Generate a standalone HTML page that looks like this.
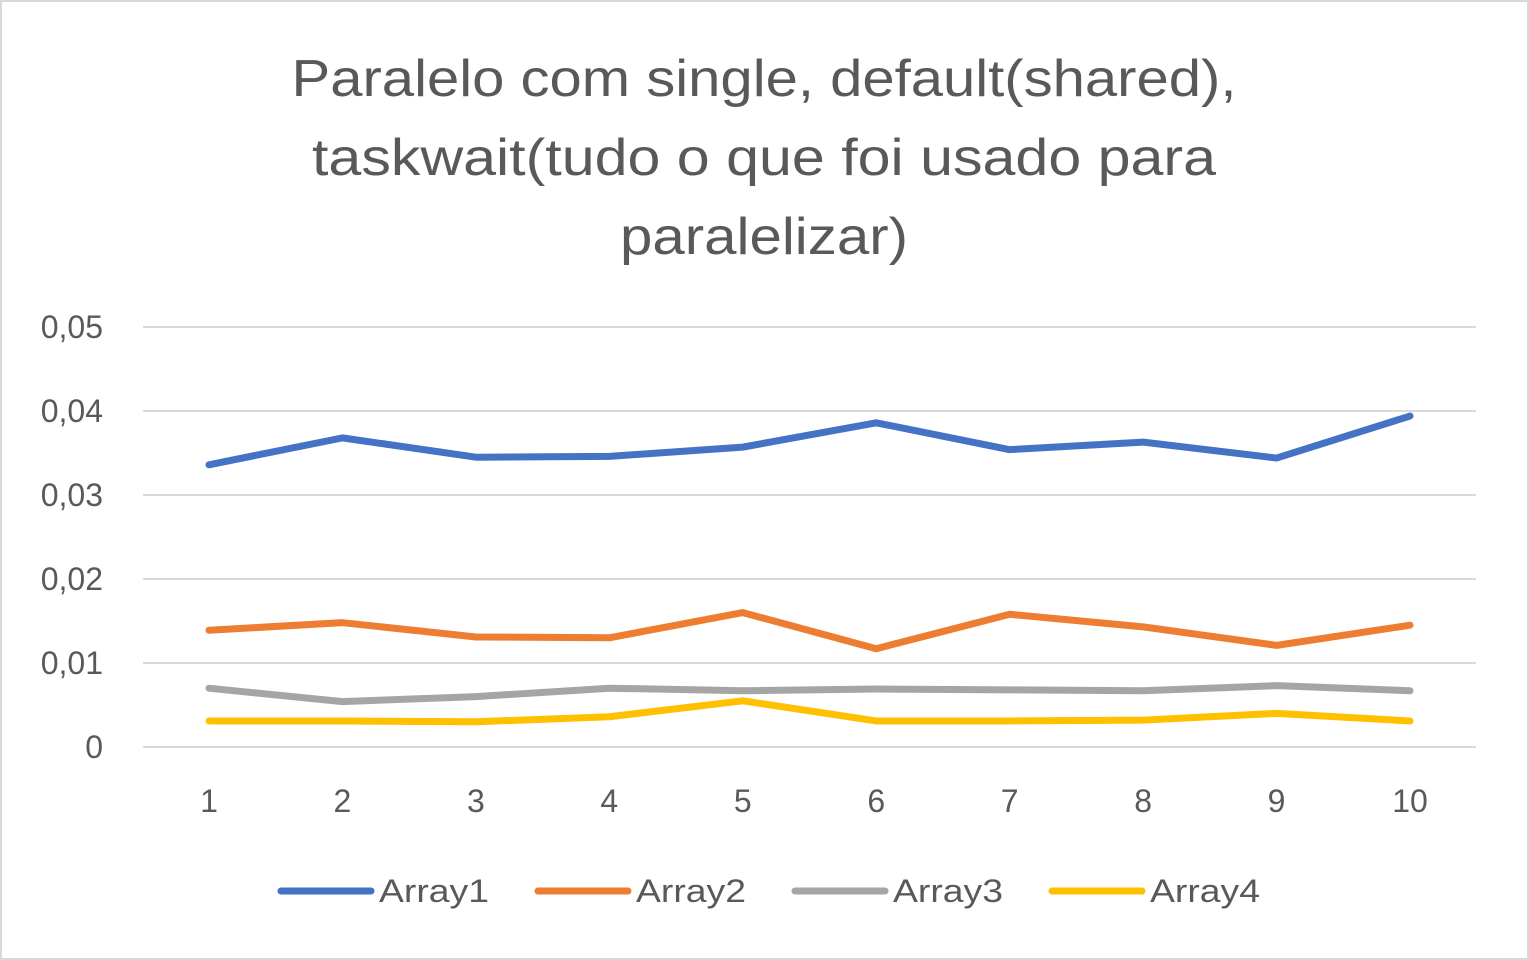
<!DOCTYPE html>
<html><head><meta charset="utf-8"><style>
html,body{margin:0;padding:0;background:#fff}
svg{display:block}
text{font-family:"Liberation Sans",sans-serif;fill:#595959}
</style></head><body>
<svg id="chart" width="1529" height="960">
<rect x="1" y="1" width="1527" height="958" fill="#fff" stroke="#d9d9d9" stroke-width="2"/>
<g>
<text x="764" y="96" font-size="52" text-anchor="middle" textLength="945" lengthAdjust="spacingAndGlyphs">Paralelo com single, default(shared),</text>
<text x="764" y="175" font-size="52" text-anchor="middle" textLength="904" lengthAdjust="spacingAndGlyphs">taskwait(tudo o que foi usado para</text>
<text x="764" y="254" font-size="52" text-anchor="middle" textLength="288" lengthAdjust="spacingAndGlyphs">paralelizar)</text>
</g>
<g id="grid"></g><g id="yticks"></g><g id="xticks"></g><g id="series"></g><g id="legend"></g>
</svg>
<script>
const categories=[1,2,3,4,5,6,7,8,9,10];
const yTicks=[0,0.01,0.02,0.03,0.04,0.05];
const yTickLabels=["0","0,01","0,02","0,03","0,04","0,05"];
const seriesNames=["Array1","Array2","Array3","Array4"];
const array1=[0.0336,0.0368,0.0345,0.0346,0.0357,0.0386,0.0354,0.0363,0.0344,0.0394];
const array2=[0.0139,0.0148,0.0131,0.0130,0.0160,0.0117,0.0158,0.0143,0.0121,0.0145];
const array3=[0.0070,0.0054,0.0060,0.0070,0.0067,0.0069,0.0068,0.0067,0.0073,0.0067];
const array4=[0.0031,0.0031,0.0030,0.0036,0.0055,0.0031,0.0031,0.0032,0.0040,0.0031];
const colors=["#4472c4","#ed7d31","#a5a5a5","#ffc000"];
const NS="http://www.w3.org/2000/svg";
const y=v=>747-v*8400;
const x=i=>209+i*(1410-209)/9;
function mk(tag,attrs,parent){const e=document.createElementNS(NS,tag);for(const k in attrs)e.setAttribute(k,attrs[k]);parent.appendChild(e);return e;}
const grid=document.getElementById('grid'),yt=document.getElementById('yticks'),xt=document.getElementById('xticks'),ser=document.getElementById('series'),leg=document.getElementById('legend');
yTicks.forEach((v,i)=>{
 const l=mk('line',{x1:143,x2:1476,y1:y(v),y2:y(v),stroke:'#d9d9d9','stroke-width':2},grid);
 
 
 const t=mk('text',{x:103,y:y(v)+11,'font-size':32,'text-anchor':'end'},yt);
 t.textContent=yTickLabels[i];
 
 
});
categories.forEach((c,i)=>{
 const t=mk('text',{x:x(i),y:812,'font-size':32,'text-anchor':'middle'},xt);
 t.textContent=c;
 
 
});
[array1,array2,array3,array4].forEach((arr,s)=>{
 const p=mk('polyline',{points:arr.map((v,i)=>x(i)+','+y(v)).join(' '),fill:'none',stroke:colors[s],'stroke-width':7,'stroke-linejoin':'round','stroke-linecap':'round'},ser);
 
 
 const lx=281+s*257;
 const g=mk('g',{},leg);
 
 
 mk('line',{x1:lx,x2:lx+90,y1:891,y2:891,stroke:colors[s],'stroke-width':7,'stroke-linecap':'round'},g);
 const t=mk('text',{x:lx+98,y:902,'font-size':32,textLength:110,lengthAdjust:'spacingAndGlyphs'},g);
 t.textContent=seriesNames[s];
});
</script>
</body></html>
